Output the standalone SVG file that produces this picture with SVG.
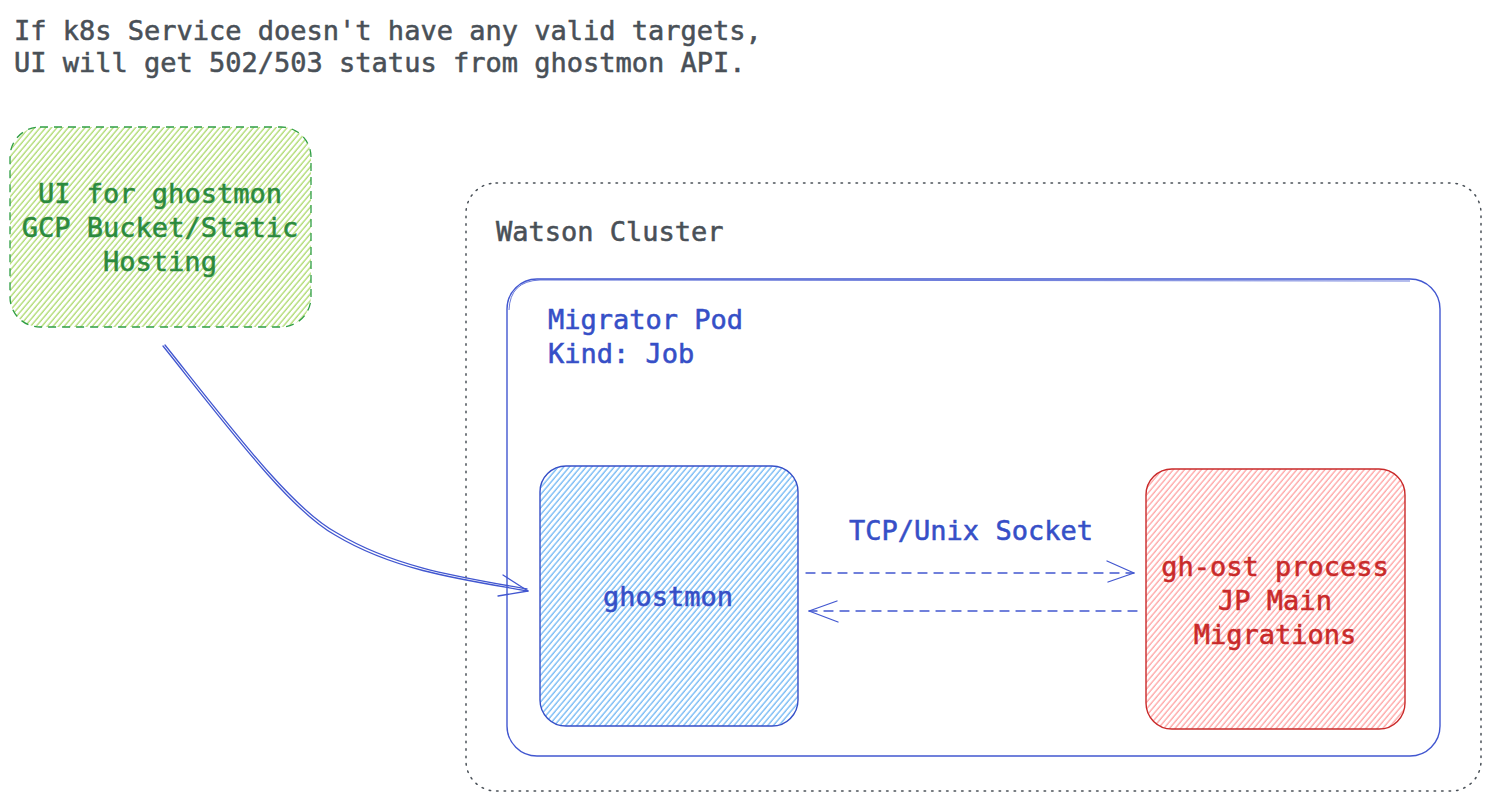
<svg xmlns="http://www.w3.org/2000/svg" width="1491" height="801" viewBox="0 0 1491 801">
  <defs>
    <pattern id="hatchGreen" width="4.3" height="4.3" patternUnits="userSpaceOnUse" patternTransform="rotate(40)">
      <line x1="1" y1="0" x2="1" y2="4.3" stroke="#a5d65f" stroke-width="1.2"/>
    </pattern>
    <pattern id="hatchBlue" width="4.3" height="4.3" patternUnits="userSpaceOnUse" patternTransform="rotate(40)">
      <line x1="1" y1="0" x2="1" y2="4.3" stroke="#6fb6f4" stroke-width="1.3"/>
    </pattern>
    <pattern id="hatchRed" width="4.3" height="4.3" patternUnits="userSpaceOnUse" patternTransform="rotate(40)">
      <line x1="1" y1="0" x2="1" y2="4.3" stroke="#ff9a9a" stroke-width="1.2"/>
    </pattern>
  </defs>
  <style>
    text { font-family: "DejaVu Sans Mono", "Liberation Mono", monospace; font-size: 27px; stroke-width: 0.55px; }
    .gray { fill: #495057; stroke: #495057; }
    .blue { fill: #364fc7; stroke: #364fc7; }
    .green { fill: #2b8a3e; stroke: #2b8a3e; }
    .red { fill: #c92a2a; stroke: #c92a2a; }
    .conn { fill: none; stroke: #4257d0; stroke-width: 1.3; stroke-linecap: round; stroke-linejoin: round; }
    .dash { stroke-dasharray: 9 7; }
  </style>
  <rect width="1491" height="801" fill="#ffffff"/>

  <g id="note">
    <text class="gray" x="14" y="40">If k8s Service doesn't have any valid targets,</text>
    <text class="gray" x="14" y="72">UI will get 502/503 status from ghostmon API.</text>
  </g>

  <g id="ui-node">
    <rect x="10" y="127" width="301" height="200" rx="30" fill="url(#hatchGreen)" stroke="#2f9e44" stroke-width="1.3" stroke-dasharray="8 6"/>
    <text class="green" x="160" y="203" text-anchor="middle">UI for ghostmon</text>
    <text class="green" x="160" y="237" text-anchor="middle">GCP Bucket/Static</text>
    <text class="green" x="160" y="271" text-anchor="middle">Hosting</text>
  </g>

  <g id="watson-cluster">
    <rect x="466" y="183" width="1015" height="608" rx="30" fill="none" stroke="#495057" stroke-width="1.5" stroke-dasharray="1.5 6" stroke-linecap="round"/>
    <text class="gray" x="496" y="241">Watson Cluster</text>
  </g>

  <g id="migrator-pod">
    <rect x="507" y="279" width="933" height="477" rx="30" fill="none" stroke="#4257d0" stroke-width="1.4"/>
    <path d="M509,310 Q510,281 540,280 L1410,281" fill="none" stroke="#4257d0" stroke-width="0.8"/>
    <text class="blue" x="548" y="329">Migrator Pod</text>
    <text class="blue" x="548" y="363">Kind: Job</text>
  </g>

  <g id="ghostmon">
    <rect x="540" y="466" width="258" height="260" rx="26" fill="url(#hatchBlue)" stroke="#364fc7" stroke-width="1.4"/>
    <text class="blue" x="668" y="606" text-anchor="middle">ghostmon</text>
  </g>

  <g id="gh-ost">
    <rect x="1146" y="469" width="259" height="260" rx="26" fill="url(#hatchRed)" stroke="#c92a2a" stroke-width="1.4"/>
    <text class="red" x="1275" y="576" text-anchor="middle">gh-ost process</text>
    <text class="red" x="1275" y="610" text-anchor="middle">JP Main</text>
    <text class="red" x="1275" y="644" text-anchor="middle">Migrations</text>
  </g>

  <g id="connectors">
    <path class="conn" d="M163,346 C230,430 290,510 335,535 C390,568 450,578 528,591"/>
    <path class="conn" d="M165,345 C232,429 292,509 337,533 C392,566 452,576 527,589" stroke-width="0.9"/>
    <path class="conn" d="M503,575 L528,591 L498,596"/>
    <path class="conn dash" d="M806,573 L1134,573"/>
    <path class="conn" d="M1107,561 L1134,573 L1108,582"/>
    <path class="conn dash" d="M1137,611 L809,611"/>
    <path class="conn" d="M837,601 L809,611 L838,622"/>
    <text class="blue" x="971" y="540" text-anchor="middle">TCP/Unix Socket</text>
  </g>
</svg>
